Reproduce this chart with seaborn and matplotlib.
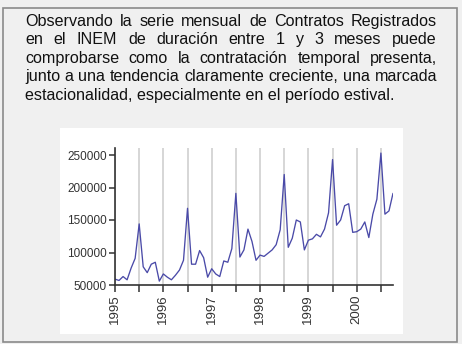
import numpy as np
import pandas as pd
import matplotlib
matplotlib.use("Agg")
import matplotlib.pyplot as plt
import seaborn as sns
from matplotlib.patches import Rectangle

# contratos registrados (1-3 meses), miles, ene-dic por año
c1995 = [59, 57, 63, 58, 76, 91, 144, 78, 69, 82, 85, 56]
c1996 = [67, 62, 58, 65, 73, 88, 168, 82, 82, 103, 92, 62]
c1997 = [75, 67, 63, 87, 85, 106, 191, 93, 104, 136, 117, 88]
c1998 = [96, 94, 99, 104, 112, 135, 220, 108, 122, 150, 147, 104]
c1999 = [119, 121, 128, 124, 136, 161, 243, 142, 150, 172, 175, 131]
c2000 = [132, 136, 147, 123, 159, 182, 253, 159, 164, 191]

years = [1995, 1996, 1997, 1998, 1999, 2000]
y_ticks = [50000, 100000, 150000, 200000, 250000]

texto = [
    "Observando la serie mensual de Contratos Registrados",
    "en el INEM de duración entre 1 y 3 meses puede",
    "comprobarse como la contratación temporal presenta,",
    "junto a una tendencia claramente creciente, una marcada",
    "estacionalidad, especialmente en el período estival.",
]

valores = np.array(c1995 + c1996 + c1997 + c1998 + c1999 + c2000) * 1000
fecha = years[0] + np.arange(len(valores)) / 12
df = pd.DataFrame({"fecha": fecha, "contratos": valores})

sns.set_style("white")
plt.rcParams["font.family"] = ["Liberation Sans", "DejaVu Sans"]

W, H = 462, 344
fig = plt.figure(figsize=(W / 100, H / 100), dpi=100, facecolor="#f0f0f0")

# marco exterior y panel blanco del gráfico (por debajo de los ejes)
fig.patches.append(Rectangle((3 / W, 1 - 342 / H), 454 / W, 334 / H,
                             transform=fig.transFigure, fill=False,
                             edgecolor="#8a8a8a", lw=1.2, zorder=-5))
fig.patches.append(Rectangle((60 / W, 1 - 334 / H), 343 / W, 206 / H,
                             transform=fig.transFigure, facecolor="white",
                             edgecolor="none", zorder=-5))

# texto justificado: medir cada palabra y repartir el hueco sobrante
FS = 11.6
renderer = fig.canvas.get_renderer()
left, right = 25, 437
baselines = [26, 44, 63, 81, 100]
for i, line in enumerate(texto):
    yb = 1 - baselines[i] / H
    if i == len(texto) - 1:
        fig.text(left / W, yb, line, fontsize=FS, color="#111111",
                 va="baseline", ha="left")
        continue
    words = line.split()
    widths = []
    for w in words:
        tmp = fig.text(0, 0, w, fontsize=FS)
        widths.append(tmp.get_window_extent(renderer).width)
        tmp.remove()
    gap = (right - left - sum(widths)) / (len(words) - 1)
    x = left
    for w, wd in zip(words, widths):
        fig.text(x / W, yb, w, fontsize=FS, color="#111111",
                 va="baseline", ha="left")
        x += wd + gap

ax = fig.add_axes([115 / W, 1 - 285 / H, 278 / W, 137 / H])
ax.patch.set_alpha(0)
sns.lineplot(data=df, x="fecha", y="contratos", ax=ax,
             color="#4a4aa8", linewidth=0.95)

ax.set_xlim(fecha[0], fecha[-1])
ax.set_ylim(50000, 50000 + 137 / 130 * 200000)
ax.set_yticks(y_ticks)
ax.set_yticklabels([str(v) for v in y_ticks])
ax.set_xticks(years)
ax.set_xticklabels([str(y) for y in years], rotation=90)
ax.set_xticks([y + 0.5 for y in years], minor=True)
ax.set_xlabel("")
ax.set_ylabel("")

ax.grid(True, axis="x", which="both", color="#cccccc", lw=1.1)
ax.grid(False, axis="y")
ax.set_axisbelow(True)

for s in ["top", "right"]:
    ax.spines[s].set_visible(False)
for s in ["left", "bottom"]:
    ax.spines[s].set_color("#333333")
    ax.spines[s].set_linewidth(1.2)

ax.tick_params(axis="both", which="both", direction="out", colors="#333333",
               width=1.1)
ax.tick_params(axis="x", which="both", length=5, bottom=True, pad=2,
               labelsize=9.5)
ax.tick_params(axis="y", length=4, left=True, pad=2, labelsize=8.5)

fig.savefig("out.png", dpi=100, facecolor=fig.get_facecolor())
